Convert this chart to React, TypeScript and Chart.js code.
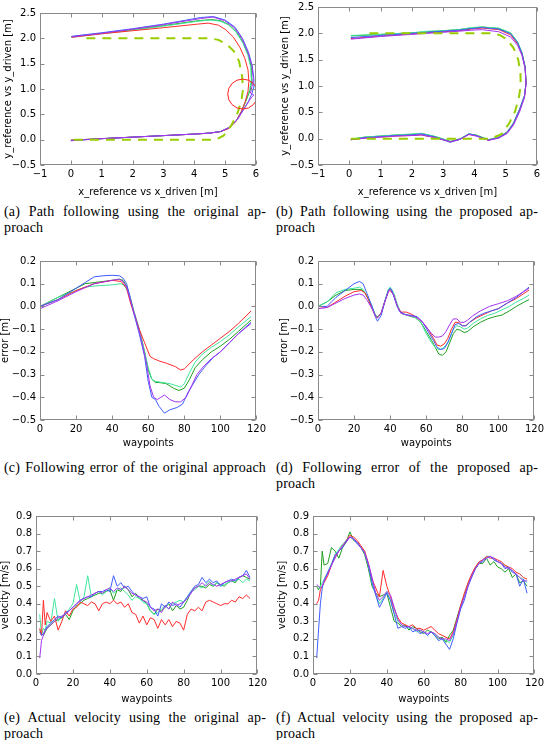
import React, { useEffect, useRef } from 'react';
import { Chart, registerables } from 'chart.js';

Chart.register(...registerables);

const FONT = "'DejaVu Sans', sans-serif";
const RED = '#ff2a2a';
const GREEN = '#1f9f1f';
const AQUA = '#3ee69c';
const BLUE = '#3f5dff';
const PURPLE = '#a433f0';
const REF = '#9acd00';
const FRAME = '#8a8a8a';

// ---------- (a) path, original approach ----------
const aRefX = [0.1, 1, 2, 3, 4, 4.7, 4.95, 5.2, 5.4, 5.53, 5.58, 5.55, 5.45, 5.28, 5.05, 4.78, 4.5, 3, 2, 1, 0.4];
const aRefY = [0, 0, 0, 0, 0, 0, 0.08, 0.28, 0.52, 0.78, 1.0, 1.25, 1.55, 1.75, 1.88, 1.97, 2.0, 2.0, 2.0, 2.0, 2.0];
const aRedX = [0, 1, 2, 3, 4, 4.5, 4.85, 5.12, 5.35, 5.52, 5.65, 5.74, 5.77, 5.74, 5.64, 5.48, 5.26, 5.02, 4.78, 4.45, 4.1, 3.0, 2.0, 1.0, 0.02];
const aRedY = [-0.01, 0.02, 0.05, 0.08, 0.11, 0.13, 0.16, 0.22, 0.36, 0.55, 0.75, 0.95, 1.15, 1.38, 1.6, 1.82, 2.03, 2.17, 2.26, 2.3, 2.28, 2.21, 2.15, 2.09, 2.02];
const aGreenX = [0, 1, 2, 3, 4, 4.5, 4.85, 5.12, 5.37, 5.55, 5.7, 5.82, 5.87, 5.85, 5.76, 5.6, 5.38, 5.12, 4.85, 4.55, 4.15, 3.0, 2.0, 1.0, 0.02];
const aGreenY = [-0.01, 0.02, 0.05, 0.08, 0.11, 0.13, 0.16, 0.23, 0.38, 0.58, 0.8, 1.0, 1.2, 1.42, 1.66, 1.9, 2.12, 2.27, 2.35, 2.37, 2.35, 2.25, 2.17, 2.1, 2.03];
const aAquaX = [0, 1, 2, 3, 4, 4.5, 4.85, 5.12, 5.36, 5.54, 5.68, 5.8, 5.85, 5.83, 5.74, 5.58, 5.36, 5.1, 4.83, 4.52, 4.15, 3.0, 2.0, 1.0, 0.02];
const aAquaY = [-0.01, 0.02, 0.05, 0.08, 0.11, 0.13, 0.16, 0.23, 0.37, 0.57, 0.79, 1.0, 1.2, 1.42, 1.66, 1.9, 2.12, 2.27, 2.34, 2.36, 2.34, 2.24, 2.16, 2.09, 2.02];
const aBlueX = [0, 1, 2, 3, 4, 4.5, 4.85, 5.12, 5.4, 5.6, 5.76, 5.86, 5.92, 5.93, 5.88, 5.76, 5.56, 5.32, 5.0, 4.62, 4.2, 3.0, 2.0, 1.0, 0.02];
const aBlueY = [-0.02, 0.02, 0.05, 0.08, 0.11, 0.13, 0.16, 0.24, 0.4, 0.6, 0.76, 0.9, 1.02, 1.2, 1.45, 1.72, 2.0, 2.22, 2.36, 2.43, 2.41, 2.28, 2.19, 2.11, 2.04];
const aPurpleX = [0, 1, 2, 3, 4, 4.5, 4.85, 5.12, 5.4, 5.6, 5.76, 5.86, 5.93, 5.82, 5.87, 5.91, 5.87, 5.74, 5.54, 5.3, 4.98, 4.6, 4.2, 3.0, 2.0, 1.0, 0.02];
const aPurpleY = [-0.02, 0.02, 0.05, 0.08, 0.11, 0.13, 0.16, 0.24, 0.4, 0.6, 0.75, 0.84, 0.88, 0.92, 1.05, 1.2, 1.45, 1.72, 2.0, 2.21, 2.35, 2.42, 2.39, 2.27, 2.18, 2.1, 2.03];
const aCircle = { x: 5.57, y: 0.9 };

// ---------- (b) path, proposed approach ----------
const bRefX = [0.05, 1, 2, 3, 4, 4.5, 4.85, 5.1, 5.3, 5.42, 5.48, 5.47, 5.4, 5.25, 5.05, 4.8, 4.5, 3, 2, 1, 0.5];
const bRefY = [0, 0, 0, 0, 0, 0, 0.08, 0.28, 0.52, 0.78, 1.0, 1.25, 1.5, 1.72, 1.88, 1.97, 2.0, 2.0, 2.0, 2.0, 2.0];
const bX = [0.05, 0.5, 1, 1.5, 2, 2.3, 2.75, 3.23, 3.55, 3.82, 4.05, 4.45, 4.78, 5.05, 5.25, 5.45, 5.6, 5.65, 5.62, 5.52, 5.38, 5.16, 4.78, 4.25, 3.9, 3.5, 3.0, 2.5, 2.0, 1.0, 0.05];
const bRedY = [-0.02, 0.01, 0.03, 0.05, 0.06, 0.07, 0.02, -0.06, -0.01, 0.08, 0.06, -0.03, 0.02, 0.12, 0.28, 0.55, 0.8, 1.05, 1.35, 1.6, 1.8, 1.97, 2.07, 2.1, 2.08, 2.05, 2.03, 2.01, 1.99, 1.95, 1.9];
const bGreenY = [-0.01, 0.03, 0.05, 0.07, 0.08, 0.1, 0.04, -0.05, 0.0, 0.09, 0.07, -0.02, 0.03, 0.13, 0.3, 0.57, 0.82, 1.07, 1.37, 1.63, 1.83, 2.0, 2.09, 2.12, 2.1, 2.07, 2.05, 2.03, 2.01, 1.98, 1.95];
const bAquaY = [-0.01, 0.03, 0.05, 0.07, 0.09, 0.1, 0.04, -0.05, 0.0, 0.09, 0.07, -0.02, 0.03, 0.13, 0.3, 0.57, 0.82, 1.07, 1.37, 1.63, 1.84, 2.01, 2.1, 2.12, 2.11, 2.07, 2.05, 2.04, 2.01, 1.98, 1.96];
const bBlueY = [-0.02, 0.02, 0.04, 0.06, 0.07, 0.09, 0.03, -0.07, -0.01, 0.09, 0.06, -0.03, 0.02, 0.12, 0.29, 0.56, 0.81, 1.06, 1.36, 1.62, 1.82, 1.99, 2.08, 2.11, 2.09, 2.06, 2.04, 2.02, 2.0, 1.96, 1.92];
const bPurpleY = [-0.02, 0.01, 0.03, 0.05, 0.06, 0.07, 0.02, -0.06, -0.01, 0.08, 0.05, -0.03, 0.01, 0.1, 0.26, 0.52, 0.78, 1.03, 1.33, 1.58, 1.77, 1.93, 2.03, 2.07, 2.06, 2.04, 2.02, 2.0, 1.98, 1.94, 1.89];

// ---------- (c) error, original approach ----------
const cRedX = [0, 10, 20, 30, 40, 45, 48, 50, 52, 55, 58, 61, 63, 66, 70, 75, 78, 80, 85, 90, 95, 100, 105, 110, 117];
const cRedY = [0, 0.03, 0.07, 0.1, 0.115, 0.11, 0.08, 0.02, -0.03, -0.1, -0.16, -0.22, -0.23, -0.24, -0.25, -0.265, -0.28, -0.275, -0.235, -0.2, -0.17, -0.14, -0.11, -0.075, -0.02];
const cGreenX = [0, 10, 20, 25, 30, 40, 44, 46, 48, 50, 52, 55, 58, 60, 62, 64, 66, 70, 74, 77, 80, 83, 86, 90, 95, 100, 105, 110, 117];
const cGreenY = [0, 0.04, 0.08, 0.1, 0.105, 0.115, 0.12, 0.115, 0.09, 0.04, -0.02, -0.1, -0.2, -0.28, -0.32, -0.335, -0.335, -0.34, -0.36, -0.37, -0.36, -0.32, -0.27, -0.235, -0.2, -0.175, -0.145, -0.11, -0.06];
const cAquaX = [0, 10, 20, 25, 30, 40, 45, 47, 49, 52, 55, 58, 60, 62, 64, 68, 72, 76, 78, 80, 83, 86, 90, 95, 100, 105, 110, 117];
const cAquaY = [0, 0.04, 0.07, 0.085, 0.09, 0.095, 0.1, 0.09, 0.06, -0.02, -0.1, -0.2, -0.27, -0.32, -0.33, -0.335, -0.34, -0.35, -0.355, -0.34, -0.29, -0.245, -0.21, -0.18, -0.155, -0.125, -0.09, -0.045];
const cBlueX = [0, 10, 20, 25, 30, 35, 40, 44, 46, 48, 50, 52, 55, 58, 60, 62, 64, 66, 69, 72, 76, 79, 82, 85, 88, 92, 96, 100, 105, 110, 117];
const cBlueY = [0, 0.03, 0.08, 0.105, 0.13, 0.135, 0.137, 0.135, 0.125, 0.1, 0.04, -0.03, -0.12, -0.22, -0.33, -0.4, -0.41, -0.44, -0.47, -0.455, -0.445, -0.43, -0.38, -0.34, -0.3, -0.26, -0.225, -0.2, -0.16, -0.12, -0.07];
const cPurpleX = [0, 10, 20, 30, 40, 44, 46, 48, 50, 53, 56, 59, 61, 63, 65, 67, 69, 72, 75, 78, 81, 84, 87, 90, 95, 100, 105, 110, 117];
const cPurpleY = [-0.01, 0.025, 0.065, 0.1, 0.115, 0.12, 0.11, 0.085, 0.03, -0.05, -0.14, -0.25, -0.35, -0.4, -0.41, -0.4, -0.39, -0.41, -0.42, -0.42, -0.4, -0.35, -0.3, -0.27, -0.23, -0.2, -0.16, -0.12, -0.075];

// ---------- (d) error, proposed approach ----------
const dRedX = [0, 5, 10, 15, 20, 24, 26, 28, 30, 32, 33, 35, 37, 39, 40, 42, 44, 46, 49, 52, 55, 58, 61, 64, 66, 68, 70, 72, 74, 76, 78, 80, 82, 84, 88, 92, 96, 100, 105, 110, 117];
const dRedY = [0, -0.005, 0.02, 0.045, 0.065, 0.07, 0.06, 0.03, -0.01, -0.045, -0.05, -0.03, 0.02, 0.065, 0.07, 0.05, 0, -0.025, -0.025, -0.035, -0.05, -0.07, -0.1, -0.14, -0.17, -0.175, -0.165, -0.14, -0.1, -0.07, -0.07, -0.085, -0.085, -0.07, -0.05, -0.035, -0.02, -0.01, 0.015, 0.035, 0.072];
const dGreenX = [0, 5, 10, 15, 20, 24, 26, 28, 30, 32, 33, 35, 37, 39, 40, 42, 44, 46, 50, 54, 57, 60, 63, 65, 67, 69, 71, 73, 75, 77, 79, 81, 83, 86, 90, 94, 98, 102, 106, 110, 114, 117];
const dGreenY = [0, 0.02, 0.05, 0.07, 0.075, 0.075, 0.06, 0.03, -0.01, -0.04, -0.045, -0.03, 0.02, 0.07, 0.08, 0.05, 0, -0.03, -0.04, -0.05, -0.07, -0.11, -0.15, -0.18, -0.21, -0.215, -0.2, -0.16, -0.12, -0.1, -0.105, -0.115, -0.11, -0.09, -0.07, -0.055, -0.045, -0.038, -0.02, 0, 0.018, 0.03];
const dAquaX = [0, 5, 10, 15, 20, 23, 25, 28, 30, 32, 33, 35, 37, 39, 40, 42, 44, 46, 50, 54, 57, 60, 63, 65, 67, 69, 71, 73, 75, 77, 79, 81, 83, 86, 90, 94, 98, 102, 106, 110, 114, 117];
const dAquaY = [0, 0.02, 0.06, 0.075, 0.08, 0.085, 0.075, 0.035, 0, -0.04, -0.05, -0.03, 0.025, 0.075, 0.085, 0.06, 0.01, -0.03, -0.04, -0.05, -0.07, -0.12, -0.16, -0.18, -0.19, -0.185, -0.17, -0.14, -0.1, -0.085, -0.09, -0.1, -0.095, -0.075, -0.055, -0.04, -0.03, -0.015, 0, 0.02, 0.035, 0.05];
const dBlueX = [0, 5, 10, 15, 20, 23, 25, 27, 30, 32, 33, 35, 37, 39, 40, 41, 43, 45, 48, 52, 55, 58, 61, 64, 66, 68, 70, 72, 74, 76, 78, 80, 82, 84, 88, 92, 96, 100, 105, 110, 117];
const dBlueY = [0, 0, 0.04, 0.07, 0.1, 0.11, 0.1, 0.06, 0, -0.05, -0.065, -0.04, 0.02, 0.07, 0.08, 0.07, 0.02, -0.02, -0.035, -0.04, -0.045, -0.07, -0.11, -0.15, -0.18, -0.19, -0.185, -0.16, -0.12, -0.08, -0.075, -0.085, -0.085, -0.07, -0.045, -0.03, -0.02, -0.01, 0.015, 0.04, 0.085];
const dPurpleX = [0, 5, 10, 15, 20, 23, 25, 27, 30, 32, 33, 35, 37, 39, 40, 42, 44, 46, 50, 54, 57, 60, 63, 65, 67, 69, 71, 73, 75, 77, 79, 81, 83, 86, 90, 95, 100, 105, 110, 114, 117];
const dPurpleY = [-0.01, -0.005, 0.015, 0.035, 0.05, 0.055, 0.05, 0.03, -0.01, -0.045, -0.05, -0.03, 0.02, 0.065, 0.075, 0.05, 0, -0.03, -0.04, -0.045, -0.06, -0.09, -0.12, -0.135, -0.135, -0.13, -0.11, -0.08, -0.055, -0.055, -0.07, -0.07, -0.06, -0.04, -0.02, 0, 0.012, 0.025, 0.045, 0.065, 0.08];

// ---------- (e)/(f) velocity ----------
const vX = [
  2, 3, 4, 5, 6, 8, 10, 12, 14, 16,
  18, 20, 22, 24, 26, 28, 30, 32, 34, 36,
  38, 40, 42, 44, 46, 48, 50, 52, 54, 56,
  58, 60, 62, 64, 66, 68, 70, 72, 74, 76,
  78, 80, 82, 84, 86, 88, 90, 92, 94, 96,
  98, 100, 102, 104, 106, 108, 110, 112, 114, 116,
];
const eRed = [
  0.26, 0.22, 0.42, 0.28, 0.35, 0.3, 0.33, 0.25, 0.3, 0.36,
  0.33, 0.37, 0.38, 0.41, 0.4, 0.39, 0.41, 0.4, 0.36, 0.4,
  0.41, 0.4, 0.42, 0.4, 0.41, 0.38, 0.4, 0.35, 0.34, 0.29,
  0.33, 0.28, 0.32, 0.31, 0.26, 0.31, 0.28, 0.31, 0.27, 0.3,
  0.29, 0.25, 0.34, 0.37, 0.36, 0.38, 0.36, 0.41, 0.42, 0.41,
  0.4, 0.39, 0.4, 0.4, 0.42, 0.41, 0.44, 0.43, 0.45, 0.43,
];
const eGreen = [
  0.25, 0.23, 0.22, 0.24, 0.26, 0.28, 0.3, 0.31, 0.32, 0.34,
  0.31, 0.36, 0.39, 0.4, 0.42, 0.43, 0.44, 0.45, 0.46, 0.46,
  0.47, 0.48, 0.42, 0.48, 0.47, 0.5, 0.48, 0.44, 0.46, 0.43,
  0.42, 0.4, 0.36, 0.34, 0.37, 0.36, 0.38, 0.4, 0.36, 0.39,
  0.37, 0.38, 0.42, 0.47, 0.49, 0.5, 0.5, 0.49, 0.51, 0.5,
  0.52, 0.51, 0.5, 0.52, 0.53, 0.52, 0.55, 0.56, 0.55, 0.54,
];
const eAqua = [
  0.34, 0.22, 0.26, 0.25, 0.3, 0.29, 0.43, 0.3, 0.33, 0.34,
  0.37, 0.4, 0.51, 0.41, 0.44, 0.56, 0.44, 0.46, 0.47, 0.45,
  0.47, 0.49, 0.46, 0.48, 0.49, 0.47, 0.45, 0.42, 0.44, 0.43,
  0.41, 0.4, 0.36, 0.34, 0.35, 0.37, 0.39, 0.37, 0.4, 0.41,
  0.42, 0.41, 0.44, 0.47, 0.48, 0.5, 0.49, 0.51, 0.53, 0.5,
  0.52, 0.5, 0.51, 0.52, 0.53, 0.53, 0.54, 0.52, 0.54, 0.53,
];
const eBlue = [
  0.24, 0.22, 0.23, 0.25, 0.27, 0.29, 0.31, 0.33, 0.32, 0.35,
  0.36, 0.38, 0.4, 0.42, 0.43, 0.44, 0.44, 0.46, 0.47, 0.47,
  0.48, 0.47, 0.56, 0.5, 0.52, 0.49, 0.5, 0.47, 0.45, 0.44,
  0.43, 0.44, 0.38, 0.37, 0.33, 0.4, 0.38, 0.41, 0.39, 0.4,
  0.38, 0.41, 0.44, 0.47, 0.5, 0.51, 0.55, 0.52, 0.54, 0.52,
  0.53, 0.5, 0.52, 0.53, 0.54, 0.53, 0.55, 0.56, 0.59, 0.55,
];
const ePurple = [
  0.09, 0.19, 0.22, 0.25, 0.26, 0.28, 0.3, 0.32, 0.33, 0.34,
  0.36, 0.38, 0.4, 0.42, 0.43, 0.44, 0.45, 0.46, 0.47, 0.46,
  0.48, 0.49, 0.47, 0.49, 0.48, 0.5, 0.48, 0.46, 0.45, 0.44,
  0.42, 0.41, 0.38, 0.36, 0.37, 0.35, 0.39, 0.37, 0.41, 0.39,
  0.4, 0.41, 0.43, 0.46, 0.49, 0.5, 0.52, 0.5, 0.52, 0.51,
  0.5, 0.51, 0.52, 0.53, 0.53, 0.54, 0.55, 0.56, 0.57, 0.54,
];
const fRed = [
  0.4, 0.42, 0.48, 0.5, 0.52, 0.56, 0.62, 0.67, 0.7, 0.73,
  0.76, 0.79, 0.78, 0.76, 0.73, 0.7, 0.63, 0.54, 0.49, 0.44,
  0.59, 0.5, 0.44, 0.37, 0.32, 0.29, 0.28, 0.27, 0.28, 0.26,
  0.26, 0.25, 0.26, 0.27, 0.25, 0.23, 0.22, 0.21, 0.2, 0.24,
  0.31, 0.39, 0.46, 0.52, 0.57, 0.61, 0.64, 0.65, 0.67, 0.66,
  0.66, 0.65, 0.64, 0.62, 0.61, 0.6, 0.58, 0.57, 0.55, 0.54,
];
const fGreen = [
  0.5, 0.48, 0.5, 0.7, 0.62, 0.63, 0.72, 0.7, 0.66, 0.72,
  0.75, 0.81, 0.76, 0.75, 0.72, 0.68, 0.6, 0.5, 0.46, 0.44,
  0.45, 0.46, 0.38, 0.3, 0.29, 0.27, 0.28, 0.25, 0.27, 0.26,
  0.24, 0.23, 0.25, 0.24, 0.22, 0.2, 0.21, 0.18, 0.22, 0.25,
  0.32, 0.39, 0.45, 0.51, 0.56, 0.6, 0.63, 0.63, 0.66, 0.62,
  0.64, 0.61, 0.6, 0.58, 0.6, 0.55, 0.57, 0.52, 0.53, 0.5,
];
const fAqua = [
  0.5, 0.49, 0.5, 0.52, 0.54, 0.58, 0.63, 0.68, 0.71, 0.74,
  0.76, 0.78, 0.77, 0.75, 0.72, 0.69, 0.62, 0.52, 0.45, 0.4,
  0.43, 0.47, 0.42, 0.35, 0.3, 0.28, 0.27, 0.26, 0.26, 0.24,
  0.25, 0.24, 0.22, 0.24, 0.23, 0.21, 0.2, 0.19, 0.18, 0.22,
  0.3, 0.38, 0.45, 0.51, 0.56, 0.6, 0.63, 0.65, 0.67, 0.67,
  0.65, 0.64, 0.63, 0.62, 0.6, 0.59, 0.57, 0.55, 0.54, 0.52,
];
const fBlue = [
  0.09, 0.25, 0.4, 0.49, 0.53, 0.58, 0.62, 0.68, 0.7, 0.72,
  0.76, 0.78, 0.77, 0.74, 0.72, 0.69, 0.62, 0.52, 0.45, 0.38,
  0.42, 0.46, 0.42, 0.34, 0.26, 0.27, 0.26, 0.27, 0.24, 0.25,
  0.23, 0.24, 0.22, 0.24, 0.22, 0.19, 0.2, 0.17, 0.14, 0.2,
  0.29, 0.37, 0.42, 0.5, 0.55, 0.6, 0.63, 0.64, 0.66, 0.67,
  0.65, 0.64, 0.63, 0.6, 0.61, 0.58, 0.57, 0.5, 0.54, 0.46,
];
const fPurple = [
  0.51, 0.5, 0.49, 0.5, 0.53, 0.57, 0.62, 0.66, 0.7, 0.73,
  0.75, 0.78, 0.77, 0.75, 0.72, 0.69, 0.63, 0.55, 0.46, 0.42,
  0.44, 0.47, 0.45, 0.38, 0.31, 0.28, 0.27, 0.27, 0.26, 0.25,
  0.25, 0.24, 0.23, 0.24, 0.23, 0.21, 0.2, 0.2, 0.19, 0.23,
  0.3, 0.38, 0.44, 0.5, 0.56, 0.6, 0.63, 0.65, 0.66, 0.67,
  0.66, 0.64, 0.63, 0.61, 0.6, 0.59, 0.57, 0.55, 0.53, 0.53,
];

const CAP_A = ['(a) Path following using the original ap-', 'proach'];
const CAP_B = ['(b) Path following using the proposed ap-', 'proach'];
const CAP_C = ['(c) Following error of the original approach'];
const CAP_D = ['(d) Following error of the proposed ap-', 'proach'];
const CAP_E = ['(e) Actual velocity using the original ap-', 'proach'];
const CAP_F = ['(f) Actual velocity using the proposed ap-', 'proach'];

const fmt = (digits: number) => (v: number) => {
  const r = Math.abs(v) < 1e-9 ? 0 : v;
  return r.toFixed(digits).replace('-', '\u2212');
};

type Ser = { xs: number[]; ys: number[]; color: string; dash?: number[]; width?: number };
type Cfg = {
  plot: { l: number; t: number; r: number; b: number };
  colLeft: number;
  yTitleCx: number;
  xTitleDy: number;
  x: [number, number, number];
  y: [number, number, number];
  xDigits: number;
  yDigits: number;
  xTitle: string;
  yTitle: string;
  series: Ser[];
  circle?: { x: number; y: number };
};

const TICK = 4;
const framePlugin = {
  id: 'frame',
  afterDraw(chart: any) {
    const { ctx, chartArea: a, scales } = chart;
    const L = Math.round(a.left) + 0.5;
    const R = Math.round(a.right) - 0.5;
    const T = Math.round(a.top) + 0.5;
    const B = Math.round(a.bottom) - 0.5;
    ctx.save();
    ctx.strokeStyle = FRAME;
    ctx.lineWidth = 1;
    ctx.beginPath();
    scales.x.ticks.forEach((t: any) => {
      const p = Math.round(scales.x.getPixelForValue(t.value)) + 0.5;
      ctx.moveTo(p, B);
      ctx.lineTo(p, B - TICK);
      ctx.moveTo(p, T);
      ctx.lineTo(p, T + TICK);
    });
    scales.y.ticks.forEach((t: any) => {
      const p = Math.round(scales.y.getPixelForValue(t.value)) + 0.5;
      ctx.moveTo(L, p);
      ctx.lineTo(L + TICK, p);
      ctx.moveTo(R, p);
      ctx.lineTo(R - TICK, p);
    });
    ctx.stroke();
    ctx.strokeRect(L, T, R - L, B - T);
    ctx.restore();
  },
};

const PT = 8;
const PR = 12;
const XH = 34;

function Panel({ cfg }: { cfg: Cfg }) {
  const ref = useRef<HTMLCanvasElement>(null);
  const left = cfg.colLeft;
  const top = cfg.plot.t - PT;
  const w = cfg.plot.r + PR - left;
  const h = cfg.plot.b + XH - top;
  const yw = cfg.plot.l - left;
  useEffect(() => {
    const datasets: any[] = [];
    if (cfg.circle) {
      datasets.push({
        data: [cfg.circle],
        showLine: false,
        pointRadius: 15,
        pointHoverRadius: 15,
        pointBorderWidth: 1,
        pointBorderColor: '#ff2020',
        pointBackgroundColor: 'rgba(0,0,0,0)',
        borderColor: '#ff2020',
        backgroundColor: 'rgba(0,0,0,0)',
      });
    }
    cfg.series.forEach((s) => {
      datasets.push({
        data: s.xs.map((x, i) => ({ x, y: s.ys[i] })),
        showLine: true,
        borderColor: s.color,
        backgroundColor: s.color,
        borderWidth: s.width ?? 1,
        borderDash: s.dash ?? [],
        pointRadius: 0,
        pointHoverRadius: 0,
        tension: 0,
        fill: false,
      });
    });
    const tickFont = { family: FONT, size: 10 };
    const chart = new Chart(ref.current as HTMLCanvasElement, {
      type: 'scatter',
      data: { datasets },
      plugins: [framePlugin],
      options: {
        animation: false,
        responsive: false,
        events: [],
        layout: { padding: { left: 0, top: PT, right: PR, bottom: 0 } },
        plugins: { legend: { display: false }, tooltip: { enabled: false } },
        scales: {
          x: {
            type: 'linear',
            position: 'bottom',
            min: cfg.x[0],
            max: cfg.x[1],
            grid: { display: false, drawTicks: false },
            border: { display: false },
            ticks: {
              stepSize: cfg.x[2],
              padding: 3,
              color: '#000',
              font: tickFont,
              maxRotation: 0,
              autoSkip: false,
              callback: (v: any) => fmt(cfg.xDigits)(Number(v)),
            },
            title: {
              display: true,
              text: cfg.xTitle,
              color: '#000',
              font: tickFont,
              padding: { top: 0, bottom: XH - cfg.xTitleDy - 6 },
            },
            afterFit: (s: any) => {
              s.height = XH;
            },
          },
          y: {
            type: 'linear',
            position: 'left',
            min: cfg.y[0],
            max: cfg.y[1],
            grid: { display: false, drawTicks: false },
            border: { display: false },
            ticks: {
              stepSize: cfg.y[2],
              padding: 4,
              color: '#000',
              font: tickFont,
              autoSkip: false,
              callback: (v: any) => fmt(cfg.yDigits)(Number(v)),
            },
            title: {
              display: true,
              text: cfg.yTitle,
              color: '#000',
              font: tickFont,
              padding: { top: cfg.yTitleCx - left - 6, bottom: 0 },
            },
            afterFit: (s: any) => {
              s.width = yw;
            },
          },
        },
      } as any,
    });
    return () => chart.destroy();
  }, []);
  return (
    <canvas
      ref={ref}
      width={w}
      height={h}
      style={{ position: 'absolute', left, top, width: w, height: h, display: 'block' }}
    />
  );
}

function Caption({ x, top, lines }: { x: number; top: number; lines: string[] }) {
  return (
    <div
      style={{
        position: 'absolute',
        left: x,
        top,
        width: 262,
        fontFamily: "'Liberation Serif', serif",
        fontSize: 14,
        letterSpacing: '0.2px',
        lineHeight: '16px',
        color: '#000',
      }}
    >
      {lines.map((ln, i) => (
        <div
          key={i}
          style={{
            textAlign: i === 0 ? 'justify' : 'left',
            textAlignLast: i === 0 ? 'justify' : 'auto',
          } as any}
        >
          {ln}
        </div>
      ))}
    </div>
  );
}

const five = (
  r: [number[], number[]],
  g: [number[], number[]],
  aq: [number[], number[]],
  bl: [number[], number[]],
  pu: [number[], number[]]
): Ser[] => [
  { xs: pu[0], ys: pu[1], color: PURPLE },
  { xs: bl[0], ys: bl[1], color: BLUE },
  { xs: r[0], ys: r[1], color: RED },
  { xs: aq[0], ys: aq[1], color: AQUA },
  { xs: g[0], ys: g[1], color: GREEN },
];

const PATH_X_T = 'x_reference vs x_driven [m]';
const PATH_Y_T = 'y_reference vs y_driven [m]';

const CFG_A: Cfg = {
  plot: { l: 40, t: 5, r: 260, b: 165 },
  colLeft: 0,
  yTitleCx: 8,
  xTitleDy: 27,
  x: [-1, 6, 1],
  y: [-0.5, 2.5, 0.5],
  xDigits: 0,
  yDigits: 1,
  xTitle: PATH_X_T,
  yTitle: PATH_Y_T,
  circle: aCircle,
  series: [
    { xs: aRefX, ys: aRefY, color: REF, dash: [9, 7], width: 2 },
    ...five([aRedX, aRedY], [aGreenX, aGreenY], [aAquaX, aAquaY], [aBlueX, aBlueY], [aPurpleX, aPurpleY]),
  ],
};
const CFG_B: Cfg = {
  plot: { l: 318, t: 5, r: 537, b: 165 },
  colLeft: 272,
  yTitleCx: 285,
  xTitleDy: 27,
  x: [-1, 6, 1],
  y: [-0.5, 2.5, 0.5],
  xDigits: 0,
  yDigits: 1,
  xTitle: PATH_X_T,
  yTitle: PATH_Y_T,
  series: [
    { xs: bRefX, ys: bRefY, color: REF, dash: [9, 7], width: 2 },
    ...five([bX, bRedY], [bX, bGreenY], [bX, bAquaY], [bX, bBlueY], [bX, bPurpleY]),
  ],
};
const CFG_C: Cfg = {
  plot: { l: 40, t: 259, r: 257, b: 420 },
  colLeft: 0,
  yTitleCx: 5,
  xTitleDy: 23,
  x: [0, 120, 20],
  y: [-0.5, 0.2, 0.1],
  xDigits: 0,
  yDigits: 1,
  xTitle: 'waypoints',
  yTitle: 'error [m]',
  series: five([cRedX, cRedY], [cGreenX, cGreenY], [cAquaX, cAquaY], [cBlueX, cBlueY], [cPurpleX, cPurpleY]),
};
const CFG_D: Cfg = {
  plot: { l: 318, t: 259, r: 535, b: 420 },
  colLeft: 272,
  yTitleCx: 284,
  xTitleDy: 23,
  x: [0, 120, 20],
  y: [-0.5, 0.2, 0.1],
  xDigits: 0,
  yDigits: 1,
  xTitle: 'waypoints',
  yTitle: 'error [m]',
  series: five([dRedX, dRedY], [dGreenX, dGreenY], [dAquaX, dAquaY], [dBlueX, dBlueY], [dPurpleX, dPurpleY]),
};
const CFG_E: Cfg = {
  plot: { l: 36, t: 514, r: 258, b: 674 },
  colLeft: 0,
  yTitleCx: 5,
  xTitleDy: 25,
  x: [0, 120, 20],
  y: [0, 0.9, 0.1],
  xDigits: 0,
  yDigits: 1,
  xTitle: 'waypoints',
  yTitle: 'velocity [m/s]',
  series: five([vX, eRed], [vX, eGreen], [vX, eAqua], [vX, eBlue], [vX, ePurple]),
};
const CFG_F: Cfg = {
  plot: { l: 313, t: 514, r: 535, b: 674 },
  colLeft: 272,
  yTitleCx: 282,
  xTitleDy: 25,
  x: [0, 120, 20],
  y: [0, 0.9, 0.1],
  xDigits: 0,
  yDigits: 1,
  xTitle: 'waypoints',
  yTitle: 'velocity [m/s]',
  series: five([vX, fRed], [vX, fGreen], [vX, fAqua], [vX, fBlue], [vX, fPurple]),
};

export default function App() {
  return (
    <div
      style={{
        position: 'absolute',
        left: 0,
        top: 0,
        width: 544,
        height: 740,
        overflow: 'hidden',
        background: '#fff',
      }}
    >
      <Panel cfg={CFG_A} />
      <Panel cfg={CFG_B} />
      <Panel cfg={CFG_C} />
      <Panel cfg={CFG_D} />
      <Panel cfg={CFG_E} />
      <Panel cfg={CFG_F} />
      <Caption x={4} top={204} lines={CAP_A} />
      <Caption x={276} top={204} lines={CAP_B} />
      <Caption x={4} top={460} lines={CAP_C} />
      <Caption x={276} top={460} lines={CAP_D} />
      <Caption x={4} top={710} lines={CAP_E} />
      <Caption x={276} top={710} lines={CAP_F} />
    </div>
  );
}
